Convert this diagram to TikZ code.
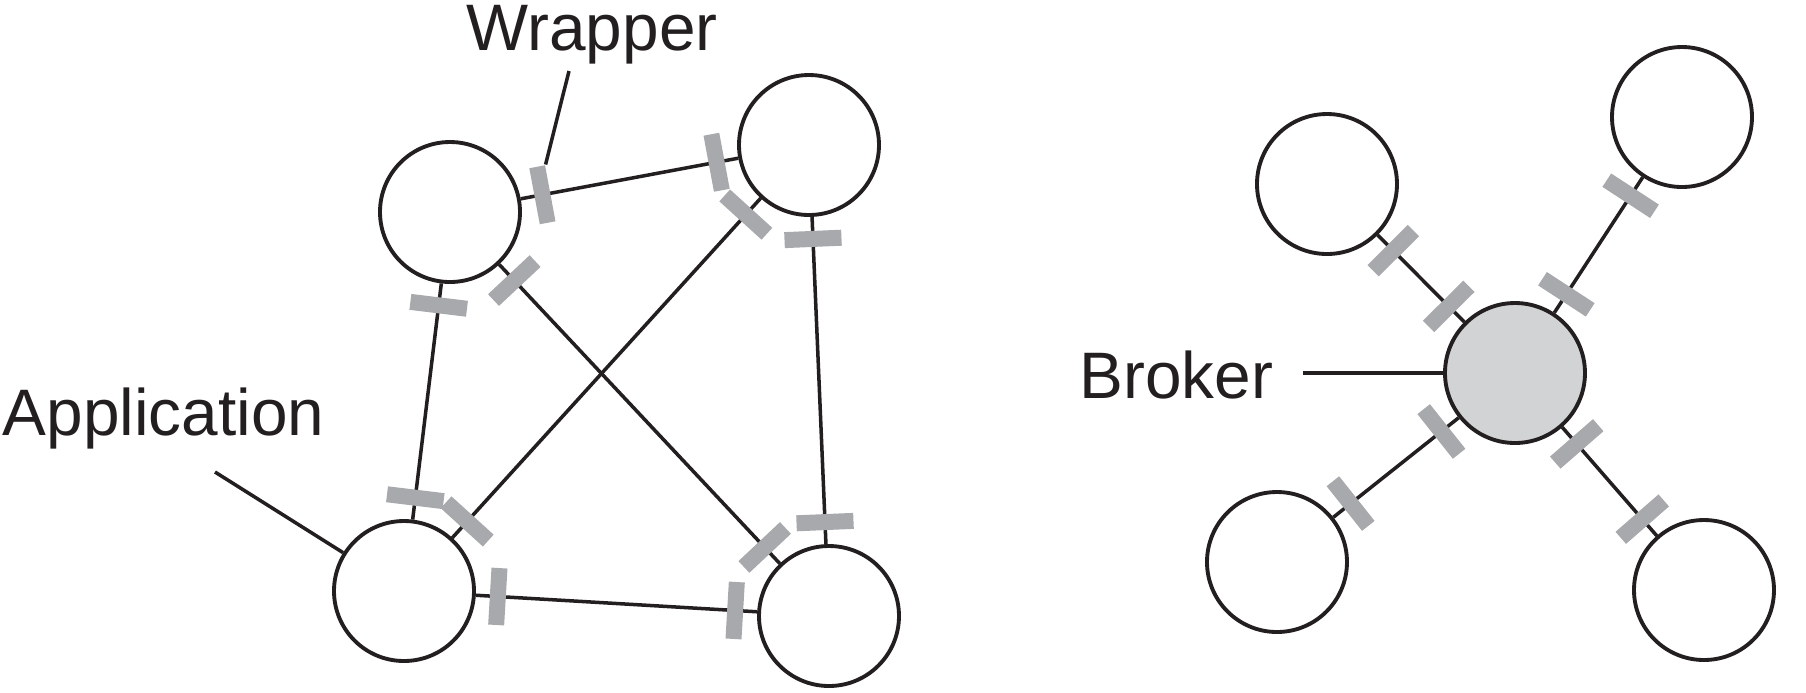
\documentclass[tikz,border=0pt]{standalone}
\usepackage{fontspec}
\setmainfont{Liberation Sans}
\usetikzlibrary{calc}
\definecolor{ink}{RGB}{35,31,32}
\definecolor{plugray}{RGB}{167,169,172}
\definecolor{brokergray}{RGB}{209,211,212}
\tikzset{
    app/.style={circle, draw=ink, line width=1.1pt, minimum size=1.40cm, inner sep=0pt, fill=white},
    hubnode/.style={app, fill=brokergray},
    wire/.style={draw=ink, line width=1pt},
    plug/.style={rectangle, fill=plugray, minimum width=0.16cm, minimum height=0.57cm, inner sep=0pt},
    tag/.style={font=\fontsize{18.7}{22}\selectfont, text=ink, inner sep=0pt},
}

\begin{document}
\begin{tikzpicture}
    \useasboundingbox (0,0) rectangle (18.06,-6.92);
    \node[app] (A) at (4.50,-2.12) {};
    \node[app] (B) at (8.09,-1.45) {};
    \node[app] (C) at (4.04,-5.91) {};
    \node[app] (D) at (8.29,-6.16) {};
    \node[app] (TL) at (13.27,-1.84) {};
    \node[app] (TR) at (16.82,-1.17) {};
    \node[app] (BL) at (12.77,-5.62) {};
    \node[app] (BR) at (17.04,-5.90) {};
    \node[hubnode] (hub) at (15.15,-3.73) {};
    \foreach \a/\b in {A/B,A/C,A/D,B/C,B/D,C/D,TL/hub,TR/hub,BL/hub,BR/hub} {
        \draw[wire] (\a) -- (\b);
        \path let \p1=($(\b.center)-(\a.center)$), \n1={atan2(\y1,\x1)} in
            node[plug, rotate=\n1] (plug-\a-\b) at ($(\a.center)!0.94cm!(\b.center)$) {}
            node[plug, rotate=\n1] (plug-\b-\a) at ($(\b.center)!0.94cm!(\a.center)$) {};
    }
    \node[tag, anchor=base west] (wrapper) at (4.66,-0.50) {Wrapper};
    \node[tag, anchor=base west] (application) at (0.02,-4.35) {Application};
    \node[tag, anchor=base west] (broker) at (10.79,-3.985) {Broker};
    \coordinate (wraplead) at (5.69,-0.71);
    \coordinate (applead) at (2.15,-4.72);
    \coordinate (brokerlead) at (13.03,-3.73);
    \draw[wire] (wraplead) -- (plug-A-B.north east);
    \draw[wire] (applead) -- (C);
    \draw[wire] (brokerlead) -- (hub);
\end{tikzpicture}
\end{document}
